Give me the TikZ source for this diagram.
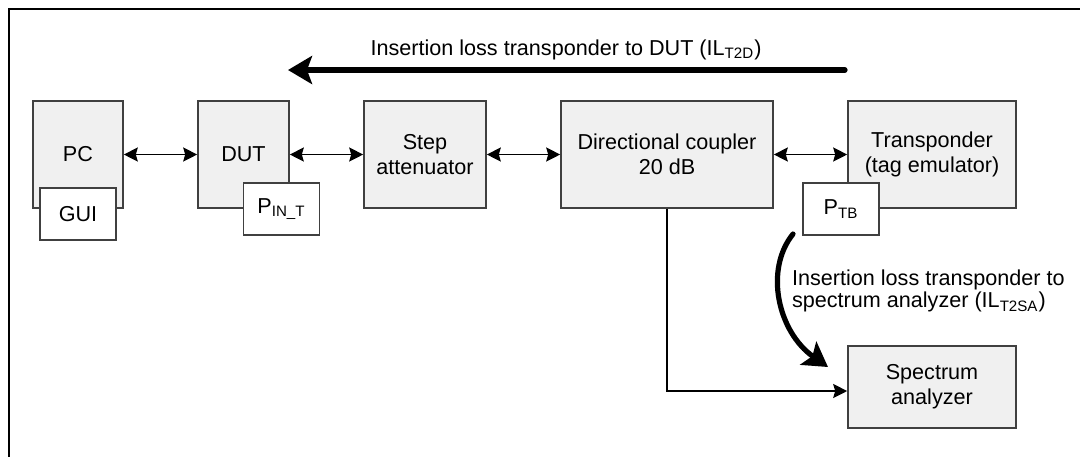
\documentclass[tikz,border=0pt]{standalone}
\usepackage{fontspec}
\setmainfont{Liberation Sans}
\usetikzlibrary{arrows.meta}

\begin{document}
\begin{tikzpicture}[x=0.5pt, y=-0.5pt,
	every node/.style={font=\fontsize{10.8}{12.5}\selectfont},
	box/.style={draw=black!75, fill=black!6, line width=0.8pt, align=center, inner sep=0pt},
	tag/.style={draw=black!75, fill=white, line width=0.8pt, inner sep=0pt, minimum width=38pt, minimum height=26pt},
	link/.style={line width=0.8pt, {Stealth[length=7pt,width=7pt,inset=1pt]}-{Stealth[length=7pt,width=7pt,inset=1pt]}},
	feed/.style={line width=0.8pt, -{Stealth[length=7pt,width=7pt,inset=1pt]}},
	loss/.style={line width=2.6pt, line cap=round, -{Stealth[length=12pt,width=14pt,inset=2.5pt]}}]
	\useasboundingbox (0,0) rectangle (1080,457);
	% frame
	\draw[line width=1.2pt] (1080,9) -- (9,9) -- (9,457);
	% blocks
	\node[box, minimum width=45pt, minimum height=53.5pt] (pc) at (78,154.5) {PC};
	\node[tag] (gui) at (78,214) {GUI};
	\node[box, minimum width=45.5pt, minimum height=53.5pt] (dut) at (243.5,154.5) {DUT};
	\node[tag] (pint) at (281.5,209) {P\textsubscript{IN\_T}};
	\node[box, minimum width=61pt, minimum height=53.5pt] (step) at (425,154.5) {Step\\attenuator};
	\node[box, minimum width=106pt, minimum height=53.5pt] (cpl) at (667,154.5) {Directional coupler\\20 dB};
	\node[box, minimum width=84pt, minimum height=53.5pt] (trp) at (932,154.5) {Transponder\\(tag emulator)};
	\node[tag] (ptb) at (841,209) {P\textsubscript{TB}};
	\node[box, minimum width=84pt, minimum height=41pt] (spa) at (932,387) {Spectrum\\analyzer};
	% links
	\draw[link] (pc.east) -- (dut.west);
	\draw[link] (dut.east) -- (step.west);
	\draw[link] (step.east) -- (cpl.west);
	\draw[link] (cpl.east) -- (trp.west);
	\draw[feed] (cpl.south) |- ([yshift=-2pt]spa.west);
	% insertion losses
	\node (t2d) at (566,50) {Insertion loss transponder to DUT (IL\textsubscript{T2D})};
	\coordinate (dutA) at (845,70);
	\coordinate (dutB) at (288,70);
	\draw[loss] (dutA) -- (dutB);
	\node[anchor=west, align=left, font=\fontsize{10.8}{11.2}\selectfont] (t2sa) at (785,291) {Insertion loss transponder to\\spectrum analyzer (IL\textsubscript{T2SA})};
	\coordinate (spaA) at (793,234);
	\coordinate (spaB) at (828,367);
	\draw[loss] (spaA) .. controls (764,270) and (778,332) .. (spaB);
\end{tikzpicture}
\end{document}
